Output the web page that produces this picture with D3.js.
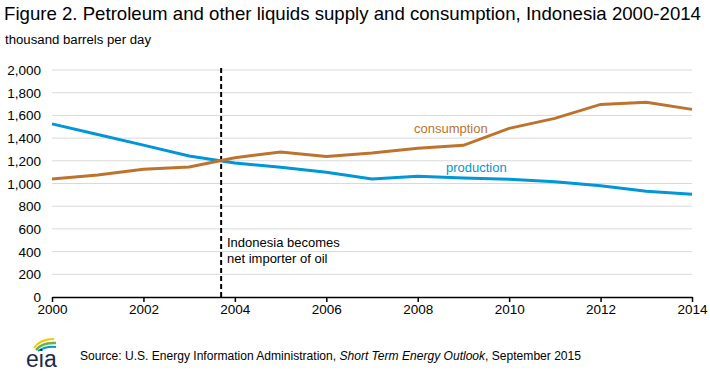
<!DOCTYPE html>
<html>
<head>
<meta charset="utf-8">
<script src="https://cdn.jsdelivr.net/npm/d3@7"></script>
<style>
  body { margin: 0; background: #fff; }
  svg { display: block; }
  text { font-family: "Liberation Sans Narrow", "Arial Narrow", "Liberation Sans", Arial, sans-serif; }
</style>
</head>
<body>
<div id="chart"></div>
<script>
// data
var years = [2000, 2001, 2002, 2003, 2004, 2005, 2006, 2007, 2008, 2009, 2010, 2011, 2012, 2013, 2014];
var production = [1525, 1432, 1338, 1242, 1180, 1143, 1099, 1040, 1063, 1048, 1037, 1016, 981, 931, 905];
var consumption = [1040, 1075, 1125, 1145, 1227, 1277, 1239, 1268, 1310, 1336, 1486, 1574, 1697, 1715, 1653];
var yTicks = [0, 200, 400, 600, 800, 1000, 1200, 1400, 1600, 1800, 2000];
var xTicks = [2000, 2002, 2004, 2006, 2008, 2010, 2012, 2014];
var importerYear = 2003.7;

var width = 710, height = 371;
var svg = d3.select("#chart").append("svg")
    .attr("width", width)
    .attr("height", height);

var x = d3.scaleLinear().domain([2000, 2014]).range([52, 692]);
var y = d3.scaleLinear().domain([0, 2000]).range([297, 70]);

// title
svg.append("text")
    .attr("x", 4).attr("y", 20)
    .attr("font-size", "18.5px")
    .attr("textLength", 697)
    .attr("lengthAdjust", "spacingAndGlyphs")
    .attr("fill", "#000")
    .text("Figure 2. Petroleum and other liquids supply and consumption, Indonesia 2000-2014");
svg.append("text")
    .attr("x", 5).attr("y", 44)
    .attr("font-size", "12.5px")
    .attr("textLength", 146)
    .attr("lengthAdjust", "spacingAndGlyphs")
    .attr("fill", "#000")
    .text("thousand barrels per day");

// grid
svg.append("g").selectAll("line")
    .data(yTicks.filter(function (d) { return d > 0; }))
    .enter().append("line")
    .attr("x1", x(2000)).attr("x2", x(2014))
    .attr("y1", function (d) { return y(d); })
    .attr("y2", function (d) { return y(d); })
    .attr("stroke", "#d9d9d9")
    .attr("stroke-width", 1);

// y labels
svg.append("g").selectAll("text")
    .data(yTicks)
    .enter().append("text")
    .attr("x", 41)
    .attr("y", function (d) { return y(d) + 5; })
    .attr("text-anchor", "end")
    .attr("font-size", "13.5px")
    .attr("fill", "#000")
    .text(function (d) { return d3.format(",")(d); });

// x axis
var xAxis = d3.axisBottom(x)
    .tickValues(xTicks)
    .tickFormat(d3.format("d"))
    .tickSize(5)
    .tickSizeOuter(0);
var gx = svg.append("g")
    .attr("transform", "translate(0," + y(0) + ")")
    .call(xAxis);
gx.select(".domain").attr("stroke", "#000").attr("stroke-width", 1.5);
gx.selectAll(".tick line").attr("stroke", "#000").attr("stroke-width", 1.5);
gx.selectAll(".tick text")
    .attr("font-size", "13.5px")
    .attr("font-family", "\"Liberation Sans Narrow\", \"Arial Narrow\", \"Liberation Sans\", Arial, sans-serif")
    .attr("fill", "#000")
    .attr("dy", "0.9em")
    .attr("y", 5);

// dashed marker
svg.append("line")
    .attr("x1", x(importerYear)).attr("x2", x(importerYear))
    .attr("y1", 68).attr("y2", y(0))
    .attr("stroke", "#000")
    .attr("stroke-width", 2)
    .attr("stroke-dasharray", "5,3");

var line = d3.line()
    .x(function (d, i) { return x(years[i]); })
    .y(function (d) { return y(d); });

svg.append("path")
    .datum(production)
    .attr("d", line)
    .attr("fill", "none")
    .attr("stroke", "#0096d7")
    .attr("stroke-width", 3);

svg.append("path")
    .datum(consumption)
    .attr("d", line)
    .attr("fill", "none")
    .attr("stroke", "#bd732e")
    .attr("stroke-width", 3);

// series labels
svg.append("text")
    .attr("x", 414).attr("y", 133)
    .attr("font-size", "13px")
    .attr("fill", "#bd732e")
    .text("consumption");
svg.append("text")
    .attr("x", 446).attr("y", 172)
    .attr("font-size", "13px")
    .attr("fill", "#0096d7")
    .text("production");

// annotation
var ann = svg.append("text")
    .attr("x", 227).attr("y", 247)
    .attr("font-size", "13px")
    .attr("fill", "#000");
ann.append("tspan").attr("x", 227).text("Indonesia  becomes");
ann.append("tspan").attr("x", 227).attr("dy", 16).text("net importer of oil");

// eia logo
var logo = svg.append("g").attr("transform", "translate(25,336)");
logo.append("path")
    .attr("d", "M9,12 Q15,3 29,3")
    .attr("fill", "none").attr("stroke", "#f7c600").attr("stroke-width", 2);
logo.append("path")
    .attr("d", "M11,14 Q17,6 31,7")
    .attr("fill", "none").attr("stroke", "#6cb33f").attr("stroke-width", 2.5);
logo.append("path")
    .attr("d", "M13,15 Q21,10 31,11")
    .attr("fill", "none").attr("stroke", "#0096d7").attr("stroke-width", 2);
logo.append("text")
    .attr("x", 1).attr("y", 31)
    .attr("font-family", "\"Liberation Serif\", \"DejaVu Serif\", serif")
    .attr("font-size", "23px")
    .attr("fill", "#1c2b4b")
    .text("eia");

// source
var src = svg.append("text")
    .attr("x", 80).attr("y", 360)
    .attr("font-size", "12.5px")
    .attr("textLength", 501)
    .attr("lengthAdjust", "spacingAndGlyphs")
    .attr("fill", "#000");
src.append("tspan").text("Source: U.S. Energy Information Administration, ");
src.append("tspan").attr("font-style", "italic").text("Short Term Energy Outlook");
src.append("tspan").text(", September 2015");
</script>
</body>
</html>
